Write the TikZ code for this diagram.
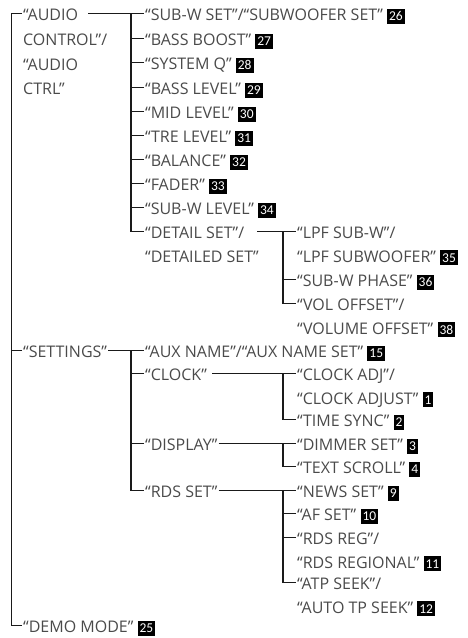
\documentclass[tikz,border=0pt]{standalone}
\usepackage{fontspec}
\setmainfont{Open Sans}
\newfontfamily\bfnt{Carlito}
\usetikzlibrary{calc}
\definecolor{txtc}{HTML}{4A4A4A}
\definecolor{lnc}{HTML}{1A1A1A}
\newcommand\bdg[1]{\raisebox{0.2pt}{\setlength{\fboxsep}{0pt}\colorbox{black}{\rule[-3pt]{0pt}{15pt}\hspace{2pt}\textcolor{white}{\bfnt\fontsize{13.5}{13.5}\selectfont #1}\hspace{2pt}}}}
\newcommand\ml[1]{\begin{tabular}[t]{@{}l@{}}#1\end{tabular}}
\tikzset{
  txt/.style={anchor=north west, yshift=10.82pt, inner sep=0pt, text=txtc,
    font=\fontsize{16}{23.6}\selectfont, execute at begin node=\rule{0pt}{16.52pt}},
  ln/.style={draw=lnc, line width=1.3pt}
}
\begin{document}
\begin{tikzpicture}[x=1pt, y=-1pt]
\useasboundingbox (0,0) rectangle (467,638);
% root level
\node[txt, yshift=0.7pt] (ac) at (23,15) {\renewcommand\arraystretch{1.0424}\ml{“AUDIO\\CONTROL”/\\“AUDIO\\CTRL”}};
\node[txt] (settings) at (23,352) {“SETTINGS”};
\node[txt] (demo) at (23,627) {“DEMO MODE” \bdg{25}};
% level 2
\node[txt] (sub) at (145,15) {“SUB-W SET”/“SUBWOOFER SET” \bdg{26}};
\node[txt] (boost) at (145,40) {“BASS BOOST” \bdg{27}};
\node[txt] (sysq) at (145,64) {“SYSTEM Q” \bdg{28}};
\node[txt] (blev) at (145,89) {“BASS LEVEL” \bdg{29}};
\node[txt] (mid) at (145,113) {“MID LEVEL” \bdg{30}};
\node[txt] (tre) at (145,137) {“TRE LEVEL” \bdg{31}};
\node[txt] (bal) at (145,161) {“BALANCE” \bdg{32}};
\node[txt] (fader) at (145,185) {“FADER” \bdg{33}};
\node[txt] (swlev) at (145,209) {“SUB-W LEVEL” \bdg{34}};
\node[txt] (detail) at (145,233) {\ml{“DETAIL SET”/\\“DETAILED SET”}};
\node[txt] (aux) at (145,352) {“AUX NAME”/“AUX NAME SET” \bdg{15}};
\node[txt] (clock) at (145,375) {“CLOCK”};
\node[txt] (display) at (145,445) {“DISPLAY”};
\node[txt] (rds) at (145,492) {“RDS SET”};
% level 3
\node[txt] (lpf) at (297,233) {\ml{“LPF SUB-W”/\\“LPF SUBWOOFER” \bdg{35}}};
\node[txt] (phase) at (297,281) {“SUB-W PHASE” \bdg{36}};
\node[txt] (vol) at (297,305) {\ml{“VOL OFFSET”/\\“VOLUME OFFSET” \bdg{38}}};
\node[txt] (cadj) at (297,375) {\ml{“CLOCK ADJ”/\\“CLOCK ADJUST” \bdg{1}}};
\node[txt] (tsync) at (297,421) {“TIME SYNC” \bdg{2}};
\node[txt] (dimmer) at (297,445) {“DIMMER SET” \bdg{3}};
\node[txt] (tscroll) at (297,468) {“TEXT SCROLL” \bdg{4}};
\node[txt] (news) at (297,492) {“NEWS SET” \bdg{9}};
\node[txt] (afset) at (297,515) {“AF SET” \bdg{10}};
\node[txt] (rdsreg) at (297,539) {\ml{“RDS REG”/\\“RDS REGIONAL” \bdg{11}}};
\node[txt] (atp) at (297,584) {\ml{“ATP SEEK”/\\“AUTO TP SEEK” \bdg{12}}};
% connection points (first text line, left side)
\foreach \n in {settings,demo,sub,boost,sysq,blev,mid,tre,bal,fader,swlev,detail,aux,clock,display,rds,lpf,phase,vol,cadj,tsync,dimmer,tscroll,news,afset,rdsreg,atp}
  \coordinate (\n C) at ($(\n.north west)+(-1pt,-9.32pt)$);
\coordinate (acC) at ($(ac.north west)+(-1pt,-10.02pt)$);
% root trunk
\draw[ln] (acC) -- ++(-10.5pt,0pt) |- (demoC);
\draw[ln] (settingsC) -- ++(-10.5pt,0pt);
% audio control
\draw[ln] ($(ac.north west)+(65pt,-10.02pt)$) -- (subC);
\draw[ln] (subC) ++(-13pt,0pt) |- (detailC);
\foreach \n in {boost,sysq,blev,mid,tre,bal,fader,swlev}
  \draw[ln] (\n C) -- ++(-13pt,0pt);
% detail set
\draw[ln] ($(detail.north west)+(112pt,-9.32pt)$) -- (lpfC);
\draw[ln] (lpfC) ++(-13pt,0pt) |- (volC);
\draw[ln] (phaseC) -- ++(-13pt,0pt);
% settings
\draw[ln] ($(settings.north east)+(1pt,-9.32pt)$) -- (auxC);
\draw[ln] (auxC) ++(-13pt,0pt) |- (rdsC);
\foreach \n in {clock,display}
  \draw[ln] (\n C) -- ++(-13pt,0pt);
% clock
\draw[ln] ($(clock.north east)+(5pt,-9.32pt)$) -- (cadjC);
\draw[ln] (cadjC) ++(-13pt,0pt) |- (tsyncC);
% display
\draw[ln] ($(display.north east)+(1pt,-9.32pt)$) -- (dimmerC);
\draw[ln] (dimmerC) ++(-13pt,0pt) |- (tscrollC);
% rds
\draw[ln] ($(rds.north east)+(1pt,-9.32pt)$) -- (newsC);
\draw[ln] (newsC) ++(-13pt,0pt) |- (atpC);
\foreach \n in {afset,rdsreg}
  \draw[ln] (\n C) -- ++(-13pt,0pt);
\end{tikzpicture}
\end{document}
